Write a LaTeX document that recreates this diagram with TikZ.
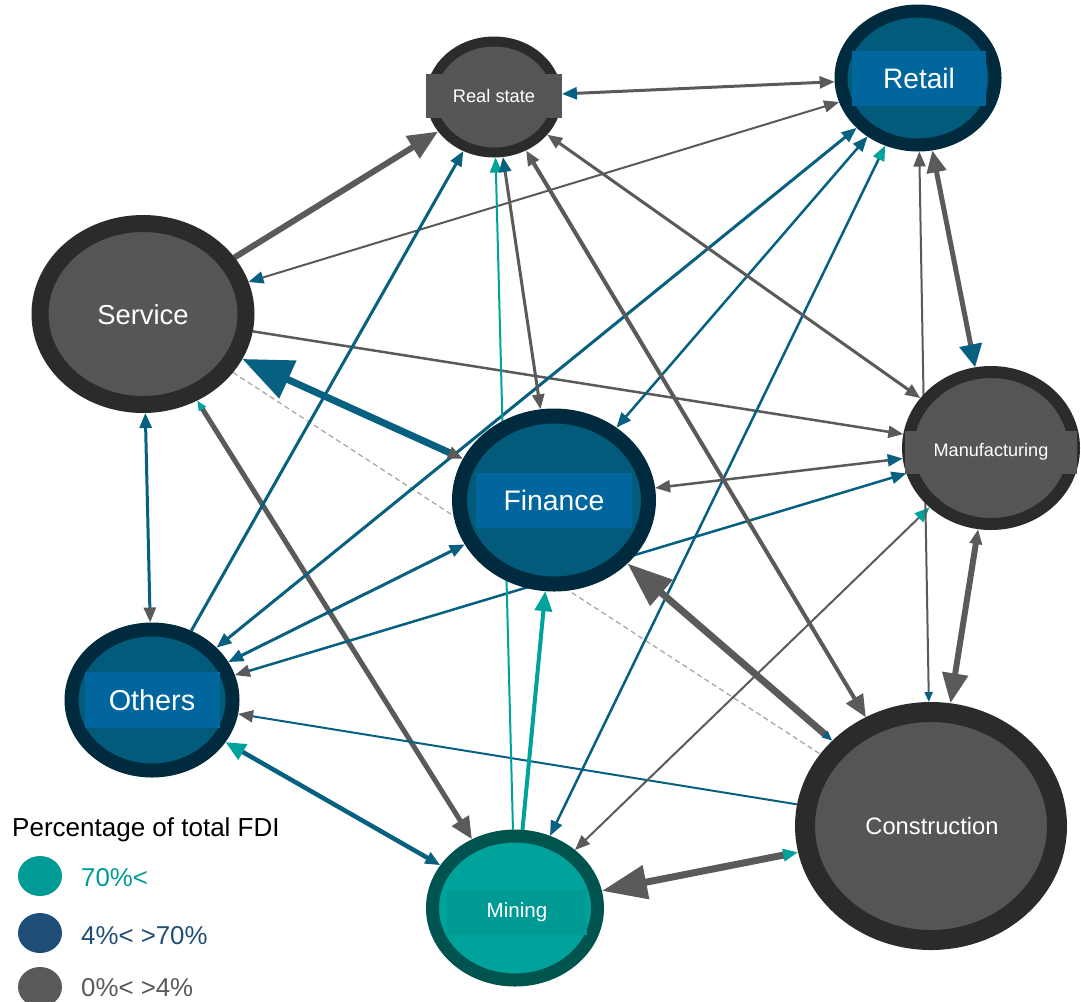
\documentclass[tikz,border=0pt]{standalone}
\usepackage{fontspec}
\setmainfont{Liberation Sans}
\usepackage{tikz}
\usetikzlibrary{shapes.geometric,arrows.meta,backgrounds}
\definecolor{grey}{HTML}{5A5A5A}
\definecolor{greyfill}{HTML}{555555}
\definecolor{greyring}{HTML}{2B2B2B}
\definecolor{greytag}{HTML}{565656}
\definecolor{petrol}{HTML}{07607F}
\definecolor{petrolfill}{HTML}{035B7B}
\definecolor{petrolring}{HTML}{002A3E}
\definecolor{petroltag}{HTML}{00669D}
\definecolor{jade}{HTML}{00A39B}
\definecolor{jadering}{HTML}{00544F}
\definecolor{jadetag}{HTML}{009A94}
\definecolor{keyjade}{HTML}{009B95}
\definecolor{keyblue}{HTML}{1F4E79}
\definecolor{keygrey}{HTML}{595959}
\definecolor{faint}{HTML}{A6A6A6}
\tikzset{
  sector/.style={ellipse,draw=greyring,fill=greyfill,inner sep=0pt},
  sectorblue/.style={sector,draw=petrolring,fill=petrolfill},
  sectorjade/.style={sector,draw=jadering,fill=jade},
  tag/.style={fill=greytag,text=white,inner sep=0pt,align=center},
  tagblue/.style={tag,fill=petroltag},
  tagjade/.style={tag,fill=jadetag},
  link/.style={draw=grey},
  linkblue/.style={draw=petrol},
  linkjade/.style={draw=jade},
  keydot/.style={ellipse,minimum width=8.8mm,minimum height=8mm,inner sep=0pt},
  keytext/.style={anchor=west,font=\fontsize{14.7}{17}\selectfont},
  greyS/.tip={Stealth[inset=0pt,length=3mm,width=2.4mm,color=grey]},
  greyM/.tip={Stealth[inset=0pt,length=4.4mm,width=3.8mm,color=grey]},
  greyL/.tip={Stealth[inset=0pt,length=6mm,width=5mm,color=grey]},
  greyX/.tip={Stealth[inset=0pt,length=9mm,width=6.6mm,color=grey]},
  blueT/.tip={Stealth[inset=0pt,length=2mm,width=1.6mm,color=petrol]},
  blueS/.tip={Stealth[inset=0pt,length=3mm,width=2.4mm,color=petrol]},
  blueM/.tip={Stealth[inset=0pt,length=4.6mm,width=4.4mm,color=petrol]},
  blueX/.tip={Stealth[inset=0pt,length=10mm,width=8mm,color=petrol]},
  jadeT/.tip={Stealth[inset=0pt,length=2mm,width=1.6mm,color=jade]},
  jadeS/.tip={Stealth[inset=0pt,length=3mm,width=2.4mm,color=jade]},
  jadeM/.tip={Stealth[inset=0pt,length=4mm,width=3.4mm,color=jade]},
}

\begin{document}
\begin{tikzpicture}[x=0.2mm,y=-0.2mm]
  \useasboundingbox (0,0) rectangle (1081,1001);
  % sectors
  \node[sector,minimum width=25.2mm,minimum height=22.2mm,line width=2mm] (realstate) at (494,97) {};
  \node[tag,minimum width=27.2mm,minimum height=8.8mm,font=\fontsize{10.4}{12}\selectfont] (realstate-t) at (494,96) {Real state};
  \node[sectorblue,minimum width=30.8mm,minimum height=26.8mm,line width=2.6mm] (retail) at (918,78) {};
  \node[tagblue,minimum width=26.8mm,minimum height=11mm,font=\fontsize{16}{19}\selectfont] (retail-t) at (919,78) {Retail};
  \node[sector,minimum width=41.2mm,minimum height=36.2mm,line width=3.4mm] (service) at (143,314) {};
  \node[tag,minimum width=30mm,minimum height=11.2mm,font=\fontsize{15.6}{18}\selectfont] (service-t) at (143,315) {Service};
  \node[sectorblue,minimum width=37.8mm,minimum height=33.6mm,line width=3mm] (finance) at (554,500) {};
  \node[tagblue,minimum width=31.2mm,minimum height=11mm,font=\fontsize{16.1}{19}\selectfont] (finance-t) at (554,500) {Finance};
  \node[sector,minimum width=33.2mm,minimum height=30.4mm,line width=2.4mm] (manufacturing) at (991,448) {};
  \node[tag,minimum width=34.4mm,minimum height=8.6mm,font=\fontsize{10.3}{12}\selectfont] (manufacturing-t) at (991,452) {Manufacturing};
  \node[sectorblue,minimum width=32.2mm,minimum height=28.2mm,line width=2.8mm] (others) at (152,700) {};
  \node[tagblue,minimum width=27mm,minimum height=11.2mm,font=\fontsize{16.4}{19}\selectfont] (others-t) at (152,700) {Others};
  \node[sectorjade,minimum width=33mm,minimum height=28.8mm,line width=2.6mm] (mining) at (515,908) {};
  \node[tagjade,minimum width=28mm,minimum height=9mm,font=\fontsize{11.7}{14}\selectfont] (mining-t) at (517,912) {Mining};
  \node[sector,minimum width=50.4mm,minimum height=45.6mm,line width=4mm] (construction) at (931,826) {};
  \node[tag,minimum width=38mm,minimum height=9.6mm,font=\fontsize{13.5}{16}\selectfont] (construction-t) at (932,826) {Construction};

  % flows
  \begin{pgfonlayer}{background}
    \draw[link,line width=0.6mm,{blueS}-{greyS}] (realstate) -- (retail);
    \draw[link,line width=1.2mm,-{greyL}] (service) -- (realstate);
    \draw[link,line width=0.4mm,{blueS}-{greyS}] (service) -- (retail);
    \draw[link,line width=0.5mm,-{greyS}] (service) -- (manufacturing);
    \draw[faint,line width=0.25mm,densely dashed] (service) -- (construction);
    \draw[link,line width=1mm,{jadeT}-{greyM}] (service) -- (mining);
    \draw[linkblue,line width=0.6mm,{blueS}-{greyS}] (service) -- (others);
    \draw[linkblue,line width=0.6mm,-{blueS}] (others) -- (realstate);
    \draw[linkblue,line width=0.6mm,{blueS}-{blueS}] (others) -- (retail);
    \draw[linkblue,line width=0.6mm,{blueS}-{blueS}] (others) -- (finance);
    \draw[linkblue,line width=0.5mm,{greyS}-{blueS}] (others) -- (manufacturing);
    \draw[linkblue,line width=0.4mm,{greyS}-] (others) -- (construction);
    \draw[linkblue,line width=0.9mm,{jadeM}-{blueS}] (others) -- (mining);
    \draw[linkjade,line width=0.4mm,-{jadeS}] (mining) -- (realstate);
    \draw[linkjade,line width=0.8mm,-{jadeM}] (mining) -- (finance);
    \draw[linkblue,line width=0.5mm,{blueS}-{jadeS}] (mining) -- (retail);
    \draw[link,line width=0.4mm,{greyS}-{jadeS}] (mining) -- (manufacturing);
    \draw[link,line width=0.6mm,{greyS}-{blueS}] (finance) -- (realstate);
    \draw[linkblue,line width=0.5mm,{blueS}-{blueS}] (finance) -- (retail);
    \draw[link,line width=0.5mm,{greyS}-{blueS}] (finance) -- (manufacturing);
    \draw[link,line width=0.8mm,{greyS}-{greyM}] (realstate) -- (construction);
    \draw[link,line width=0.6mm,{greyS}-{greyS}] (realstate) -- (manufacturing);
    \draw[link,line width=0.4mm,{blueT}-{greyS}] (construction) -- (retail);
    \draw[link,line width=1mm,{blueM}-{greyM}] (manufacturing) -- (retail);
    \draw[link,line width=1.2mm,{greyS}-{greyL}] (manufacturing) -- (construction);
    \draw[linkblue,line width=1.4mm,{blueX}-{greyS}] (service) -- (finance);
    \draw[link,line width=1.4mm,{greyX}-{blueT}] (finance) -- (construction);
    \draw[link,line width=1.4mm,{greyX}-{jadeS}] (mining) -- (construction);
  \end{pgfonlayer}

  % legend
  \node[anchor=west,font=\fontsize{14.8}{17}\selectfont] (keytitle) at (6,830) {Percentage of total FDI};
  \node[keydot,fill=keyjade] (keyhigh) at (40,876) {};
  \node[keytext,text=keyjade] (keyhigh-t) at (75,878) {70\%<};
  \node[keydot,fill=keyblue] (keymid) at (40,933) {};
  \node[keytext,text=keyblue] (keymid-t) at (75,936) {4\%< >70\%};
  \node[keydot,fill=keygrey] (keylow) at (40,987) {};
  \node[keytext,text=keygrey] (keylow-t) at (75,988) {0\%< >4\%};
\end{tikzpicture}
\end{document}
